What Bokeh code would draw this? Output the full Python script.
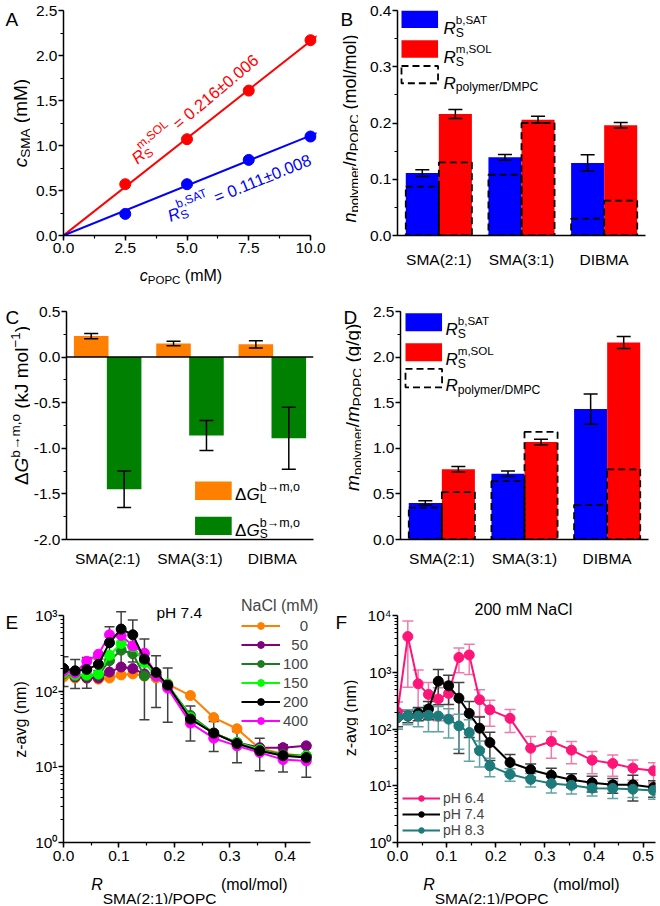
import math
from bokeh.plotting import figure
from bokeh.models import (Range1d, SingleIntervalTicker, FixedTicker, PrintfTickFormatter,
                          CustomJSTickFormatter, Label, BoxAnnotation, Whisker, TeeHead,
                          ColumnDataSource, Slope, Span, Legend, LegendItem)
from bokeh.layouts import column, row
from bokeh.embed import file_html
from bokeh.resources import INLINE

FONT = "Liberation Sans"
TICK_PX = "15.5px"
NB = "\u00a0"

# ---------------- data ----------------
# Panel A
popc_conc = [2.5, 5.0, 7.5, 10.0]
sma_sol = [0.57, 1.07, 1.61, 2.17]
sma_sat = [0.24, 0.57, 0.84, 1.10]
slope_sol = 0.216
slope_sat = 0.111

# Panels B-D
polymers = ["SMA(2:1)", "SMA(3:1)", "DIBMA"]
b_sat = [0.111, 0.139, 0.129]
b_sat_err = [0.006, 0.005, 0.0145]
b_sol = [0.216, 0.206, 0.196]
b_sol_err = [0.008, 0.006, 0.005]
b_dmpc_sat = [0.087, 0.108, 0.030]
b_dmpc_sol = [0.130, 0.200, 0.062]

dG_L = [0.23, 0.15, 0.14]
dG_L_err = [0.03, 0.025, 0.04]
dG_S = [-1.45, -0.86, -0.89]
dG_S_err = [0.20, 0.165, 0.34]

d_sat = [0.40, 0.72, 1.43]
d_sat_err = [0.025, 0.03, 0.165]
d_sol = [0.77, 1.07, 2.16]
d_sol_err = [0.03, 0.03, 0.065]
d_dmpc_sat = [0.35, 0.64, 0.38]
d_dmpc_sol = [0.52, 1.18, 0.77]

# Panel E
ratio_e = [0.0, 0.021, 0.042, 0.063, 0.083, 0.104, 0.125, 0.146, 0.167, 0.188,
           0.229, 0.271, 0.313, 0.354, 0.396, 0.438]
nacl_levels = ["0", "50", "100", "150", "200", "400"]
z_nacl_0 = [155, 150, 150, 145, 150, 165, 170, 160, 150, 125, 88, 45, 32, 17.5, 15, 14]
z_nacl_50 = [200, 155, 150, 150, 180, 210, 200, 170, 160, 120, 45, 28, 21, 18, 18, 19]
z_nacl_100 = [170, 160, 160, 165, 255, 350, 315, 160, 160, 120, 48, 28, 21, 17, 14.5, 14]
z_nacl_150 = [175, 165, 165, 170, 300, 430, 390, 240, 160, 125, 45, 28, 21, 17, 14, 14]
z_nacl_200 = [201, 187, 195, 228, 440, 667, 561, 267, 178, 121, 43, 28, 20.4, 16.4, 14.1, 13.3]
z_nacl_200_err = [85, 78, 85, 40, 275, 460, 316, 225, 117, 82, 21, 12, 9, 7.5, 5.5, 6]
z_nacl_400 = [185, 175, 250, 310, 560, 550, 400, 320, 160, 110, 38, 24, 19, 15.5, 12.5, 12]

# Panel F
ratio_f = [0.0, 0.021, 0.042, 0.063, 0.083, 0.104, 0.125, 0.146, 0.167, 0.188,
           0.229, 0.271, 0.313, 0.354, 0.396, 0.438, 0.479, 0.521]
ph_levels = ["pH 6.4", "pH 7.4", "pH 8.3"]
z_ph64 = [200, 4300, 630, 410, 340, 426, 1840, 2040, 330, 219, 155, 46, 60.5, 42.6, 28.4, 24.8, 20.5, 18.4]
z_ph64_err = [100, 3750, 470, 256, 200, 250, 850, 1120, 163, 106, 68, 28, 30, 18, 12, 10, 8, 7]
z_ph74 = [160, 170, 190, 226, 700, 582, 352, 189, 104, 58, 25.8, 19.2, 15.4, 12.8, 11.3, 10.4, 10.4, 9.3]
z_ph74_err = [50, 40, 50, 80, 430, 310, 315, 118, 60, 30, 10, 5, 5, 3.5, 3.5, 3, 5, 3]
z_ph83 = [160, 170, 170, 175, 170, 150, 114, 87, 41.5, 22.5, 16, 13, 11, 10.2, 9.1, 9, 8.7, 8.3]
z_ph83_err = [60, 50, 60, 85, 80, 80, 70, 60, 20, 8, 4, 3.5, 3.5, 3, 2.5, 3, 2.5, 2.5]

RED, BLUE = "#FF0000", "#0000FF"
ORANGE, GREEN = "#FF8000", "#008000"
E_COLORS = ["#FF8000", "#800080", "#1E7B1E", "#00FF00", "#000000", "#FF00FF"]
F_COLORS = ["#FF1478", "#000000", "#1E7B7B"]
F_ERR_COLORS = ["#F27AAB", "#404040", "#60A3A3"]
DASH = "7 4"

# ---------------- text helpers ----------------
WID = {' ': 278, NB: 278, '!': 278, '(': 333, ')': 333, '+': 584, ',': 278, '-': 333, '.': 278,
       '/': 278, ':': 278, '=': 584, '±': 584, '−': 584, '→': 1000, 'Δ': 668}
for ch in "0123456789":
    WID[ch] = 556
for ch, w in zip("ABCDEFGHIJKLMNOPQRSTUVWXYZ",
                 [667, 667, 722, 722, 667, 611, 778, 722, 278, 500, 667, 556, 833, 722, 778,
                  667, 778, 722, 667, 611, 722, 667, 944, 667, 667, 611]):
    WID[ch] = w
for ch, w in zip("abcdefghijklmnopqrstuvwxyz",
                 [556, 556, 500, 556, 556, 278, 556, 556, 222, 222, 500, 222, 833, 556, 556,
                  556, 556, 333, 500, 278, 556, 500, 722, 500, 500, 500]):
    WID[ch] = w


def tw(s, size):
    return sum(WID.get(c, 556) for c in s) * size / 1000.0


def N(t, s):
    return (t.replace(" ", NB), s, 0.0, False, True)


def I(t, s):
    return (t, s, 0.0, True, True)


def SUB(t, s, off, adv=True):
    return (t.replace(" ", NB), s, off, False, adv)


def SUP(t, s, off, adv=True):
    return (t.replace(" ", NB), s, off, False, adv)


def no_align(p):
    if "frame_align" in p.properties():
        p.frame_align = False


class Panel:
    """Main plotting figure: maps reference / page pixels to data coordinates."""
    def __init__(self, p, mine, ref, xr, yr, ylog=False):
        self.p, self.m, self.r, self.xr, self.yr, self.ylog = p, mine, ref, xr, yr, ylog

    def r2p(self, X, Y):
        L, T, Wd, H = self.m
        Lr, Tr, Wr, Hr = self.r
        return L + (X - Lr) * Wd / Wr, T + (Y - Tr) * H / Hr

    def p2d(self, X, Y):
        L, T, Wd, H = self.m
        x0, x1 = self.xr
        y0, y1 = self.yr
        xd = x0 + (X - L) / Wd * (x1 - x0)
        f = (T + H - Y) / H
        if self.ylog:
            yd = 10 ** (math.log10(y0) + f * (math.log10(y1) - math.log10(y0)))
        else:
            yd = y0 + f * (y1 - y0)
        return xd, yd


class Strip:
    """Text-only figure covering a page rectangle (no axes)."""
    def __init__(self, left, top, w, h):
        self.left, self.top, self.w, self.h = left, top, w, h
        p = figure(frame_width=w, frame_height=h, min_border=0, min_border_left=0,
                   min_border_right=0, min_border_top=0, min_border_bottom=0,
                   x_range=Range1d(0, w), y_range=Range1d(0, h),
                   x_axis_location=None, y_axis_location=None,
                   output_backend="svg", toolbar_location=None, tools="")
        p.outline_line_color = None
        p.grid.visible = False
        no_align(p)
        self.p = p

    def p2d(self, X, Y):
        return X - self.left, self.h - (Y - self.top)


def rich(target, X, Y, parts, angle=0.0, color="black", center=False):
    th = math.radians(angle)
    dx, dy = math.cos(th), -math.sin(th)
    nx, ny = -math.sin(th), -math.cos(th)
    if center:
        total, pend = 0.0, 0.0
        for (t, s, off, it, adv) in parts:
            w = tw(t, s)
            if adv:
                total += max(w, pend)
                pend = 0.0
            else:
                pend = w
        X -= dx * total / 2
        Y -= dy * total / 2
    a, pend = 0.0, 0.0
    for (t, s, off, it, adv) in parts:
        px = X + a * dx + off * nx
        py = Y + a * dy + off * ny
        xd, yd = target.p2d(px, py)
        target.p.add_layout(Label(x=xd, y=yd, text=t, angle=th, text_font=FONT,
                                  text_font_size=f"{s}px", text_color=color,
                                  text_font_style="italic" if it else "normal",
                                  text_align="left", text_baseline="alphabetic"))
        w = tw(t, s)
        if adv:
            a += max(w, pend)
            pend = 0.0
        else:
            pend = w


def box(panel, X0, Y0, X1, Y1, **kw):
    a = panel.p2d(*panel.r2p(X0, Y0))
    b = panel.p2d(*panel.r2p(X1, Y1))
    panel.p.add_layout(BoxAnnotation(left=min(a[0], b[0]), right=max(a[0], b[0]),
                                     bottom=min(a[1], b[1]), top=max(a[1], b[1]), **kw))


def base_fig(fw, fh, borders, xr, yr, ylog=False):
    bl, br, bt, bb = borders
    p = figure(frame_width=fw, frame_height=fh, min_border_left=bl, min_border_right=br,
               min_border_top=bt, min_border_bottom=bb, x_range=Range1d(*xr),
               y_range=Range1d(*yr), y_axis_type="log" if ylog else "linear",
               output_backend="svg", toolbar_location=None, tools="")
    p.outline_line_color = None
    p.grid.visible = False
    no_align(p)
    for ax in p.axis:
        ax.axis_line_width = 1.5
        ax.major_tick_line_width = 1.5
        ax.minor_tick_line_width = 1.2
        ax.major_tick_out = 5
        ax.major_tick_in = 0
        ax.minor_tick_out = 3
        ax.minor_tick_in = 0
        ax.major_label_text_font = FONT
        ax.major_label_text_font_size = TICK_PX
        ax.major_label_text_color = "black"
        ax.axis_line_color = "black"
    p.xaxis.major_label_standoff = 2
    p.yaxis.major_label_standoff = 1
    return p


def cat_axis(p, standoff):
    ax = p.xaxis[0]
    ax.ticker = FixedTicker(ticks=[i + 1 for i in range(len(polymers))], minor_ticks=[])
    ax.major_label_overrides = {i + 1: name for i, name in enumerate(polymers)}
    ax.major_tick_out = 0
    ax.major_label_standoff = standoff


def log_axis(p, decades):
    sup = {0: "⁰", 1: "¹", 2: "²", 3: "³", 4: "⁴"}
    ax = p.yaxis[0]
    ax.bounds = (1, 10 ** decades)
    ax.ticker = FixedTicker(ticks=[10 ** k for k in range(decades + 1)],
                            minor_ticks=[m * 10 ** k for k in range(decades) for m in range(2, 10)])
    ax.formatter = CustomJSTickFormatter(args=dict(sup=[sup[k] for k in range(5)]), code="""
        const e = Math.round(Math.log10(tick));
        return '10' + sup[e];
    """)


def errbars(p, xs, vals, errs, color, size, width=1.5, level="annotation"):
    src = ColumnDataSource(dict(x=xs, lo=[v - e for v, e in zip(vals, errs)],
                                hi=[v + e for v, e in zip(vals, errs)]))
    p.add_layout(Whisker(source=src, base="x", upper="hi", lower="lo", level=level,
                         line_color=color, line_width=width,
                         upper_head=TeeHead(size=size, line_color=color, line_width=width),
                         lower_head=TeeHead(size=size, line_color=color, line_width=width)))


pos = [i + 1 for i in range(len(polymers))]
left_pos = [c - 0.2 for c in pos]
right_pos = [c + 0.2 for c in pos]
FMT1 = "%.1f"
YL = 19      # y-axis title size (panels A-D)
YS = 13.5    # its sub/superscript size
DASHED_BOX = dict(fill_alpha=0, line_color="black", line_alpha=1, line_dash=DASH, line_width=1.8)

# ================= Row 1 (y 0..290) =================
# ---- Panel A ---- (frame runs 6 px past 10 mM so the last markers are whole)
A_XMAX = 10
A_XR = (0, A_XMAX * 253 / 247)
pa = base_fig(253, 225, (33, 14, 10, 25), A_XR, (0, 2.5))
A = Panel(pa, (63, 10, 253, 225), (62.7, 8.3, 246.6 * 253 / 247, 227), A_XR, (0, 2.5))
sA_L = Strip(0, 0, 30, 290)
sA_B = Strip(30, 260, 300, 30)
pa.xaxis.ticker = SingleIntervalTicker(interval=2.5, num_minor_ticks=2)
pa.yaxis.ticker = SingleIntervalTicker(interval=0.5, num_minor_ticks=2)
pa.xaxis.formatter = PrintfTickFormatter(format=FMT1)
pa.yaxis.formatter = PrintfTickFormatter(format=FMT1)
pa.xaxis.bounds = (0, A_XMAX)
pa.add_layout(Slope(gradient=slope_sol, y_intercept=0, line_color=RED, line_width=2, level="underlay"))
pa.add_layout(Slope(gradient=slope_sat, y_intercept=0, line_color=BLUE, line_width=2, level="underlay"))
pa.scatter(popc_conc, sma_sol, size=11, color=RED)
pa.scatter(popc_conc, sma_sat, size=11, color=BLUE)
rich(sA_L, 5, 19, [N("A", 19)])
rich(sA_L, 20, A.r2p(0, 121.8)[1], [I("c", YL), SUB("SMA", YS, -4.5), N(" (mM)", YL)],
     angle=90, center=True)
rich(sA_B, 139.3, 275, [I("c", 16), SUB("POPC", 11.5, -4), N(" (mM)", 16)])
rich(A, *A.r2p(132.7, 159.3), [I("R", 16.5), SUB("S", 12, -4.5, adv=False), SUP("m,SOL", 12, 8),
                               N(" = 0.216±0.006", 16.5)], angle=40, color=RED)
rich(A, *A.r2p(167.3, 216), [I("R", 16.5), SUB("S", 12, -4.5, adv=False), SUP("b,SAT", 12, 8),
                             N(" = 0.111±0.008", 16.5)], angle=22, color=BLUE)

# ---- Panel B ----
pb = base_fig(248, 225, (39, 13, 10, 55), (0.5, 3.5), (0, 0.4))
B = Panel(pb, (397, 10, 248, 225), (396.7, 8.3, 248.3, 227), (0.5, 3.5), (0, 0.4))
sB_L = Strip(330, 0, 28, 290)
cat_axis(pb, 15)
pb.yaxis.ticker = SingleIntervalTicker(interval=0.1, num_minor_ticks=2)
pb.yaxis.formatter = PrintfTickFormatter(format=FMT1)
pb.vbar(x=left_pos, top=b_sat, bottom=0, width=0.4, fill_color=BLUE, line_color=None)
pb.vbar(x=right_pos, top=b_sol, bottom=0, width=0.4, fill_color=RED, line_color=None)
pb.vbar(x=left_pos, top=b_dmpc_sat, bottom=0, width=0.4, fill_alpha=0, line_color="black",
        line_dash=DASH, line_width=1.8)
pb.vbar(x=right_pos, top=b_dmpc_sol, bottom=0, width=0.4, fill_alpha=0, line_color="black",
        line_dash=DASH, line_width=1.8)
errbars(pb, left_pos, b_sat, b_sat_err, "black", 14)
errbars(pb, right_pos, b_sol, b_sol_err, "black", 14)
rich(sB_L, 340, 19, [N("B", 19)])
rich(sB_L, 349.3, 128,
     [I("n", 18), SUB("polymer", 13, -4.5), N("/", 18), I("n", 18), SUB("POPC", 13, -4.5),
      N(" (mol/mol)", 18)], angle=90, center=True)
box(B, 400.7, 8.3, 437.3, 26, fill_color=BLUE, fill_alpha=1, line_alpha=0)
box(B, 400.7, 38.3, 437.3, 56, fill_color=RED, fill_alpha=1, line_alpha=0)
box(B, 400.7, 64.3, 437.3, 81.7, **DASHED_BOX)
rich(B, *B.r2p(442.7, 26), [I("R", 17), SUB("S", 12.2, -4.5, adv=False), SUP("b,SAT", 11.6, 9)])
rich(B, *B.r2p(442.7, 56), [I("R", 17), SUB("S", 12.2, -4.5, adv=False), SUP("m,SOL", 11.6, 9)])
rich(B, *B.r2p(442.7, 81.7), [I("R", 17), SUB("polymer/DMPC", 12.2, -4)])

# ================= Row 2 (y 290..590) =================
# ---- Panel C ----
pc = base_fig(247, 228, (33, 20, 21, 51), (0.5, 3.5), (-2.0, 0.5))
C = Panel(pc, (63, 311, 247, 228), (63.3, 311, 246.7, 227.7), (0.5, 3.5), (-2.0, 0.5))
sC_L = Strip(0, 290, 30, 300)
cat_axis(pc, 10)
pc.yaxis.ticker = SingleIntervalTicker(interval=0.5, num_minor_ticks=2)
pc.yaxis.formatter = PrintfTickFormatter(format=FMT1)
pc.vbar(x=left_pos, top=dG_L, bottom=0, width=0.42, fill_color=ORANGE, line_color=None)
pc.vbar(x=right_pos, top=dG_S, bottom=0, width=0.42, fill_color=GREEN, line_color=None)
pc.add_layout(Span(location=0, dimension="width", line_color="black", line_width=1.5))
errbars(pc, left_pos, dG_L, dG_L_err, "black", 14)
errbars(pc, right_pos, dG_S, dG_S_err, "black", 14)
rich(sC_L, 5, 316.7, [N("C", 19)])
rich(sC_L, 21, 405,
     [N("Δ", YL), I("G", YL), SUP("b→m,o", YS, 6.5), N(" (kJ mol", YL), SUP("−1", YS, 6.5),
      N(")", YL)], angle=90, center=True)
box(C, 191.7, 480.7, 228.3, 499.3, fill_color=ORANGE, fill_alpha=1, line_alpha=0)
box(C, 191.7, 516, 228.3, 534.3, fill_color=GREEN, fill_alpha=1, line_alpha=0)
rich(C, *C.r2p(231.7, 494), [N("Δ", 17), I("G", 17), SUB("L", 12, -4.3, adv=False),
                             SUP("b→m,o", 12.5, 7.5)])
rich(C, *C.r2p(231.7, 529.3), [N("Δ", 17), I("G", 17), SUB("S", 12, -4.3, adv=False),
                               SUP("b→m,o", 12.5, 7.5)])

# ---- Panel D ----
pd_ = base_fig(248, 228, (39, 13, 21, 51), (0.5, 3.5), (0, 2.5))
D = Panel(pd_, (397, 311, 248, 228), (396.7, 311, 248.3, 227.7), (0.5, 3.5), (0, 2.5))
sD_L = Strip(330, 290, 28, 300)
cat_axis(pd_, 10)
pd_.yaxis.ticker = SingleIntervalTicker(interval=0.5, num_minor_ticks=2)
pd_.yaxis.formatter = PrintfTickFormatter(format=FMT1)
pd_.vbar(x=left_pos, top=d_sat, bottom=0, width=0.4, fill_color=BLUE, line_color=None)
pd_.vbar(x=right_pos, top=d_sol, bottom=0, width=0.4, fill_color=RED, line_color=None)
pd_.vbar(x=left_pos, top=d_dmpc_sat, bottom=0, width=0.4, fill_alpha=0, line_color="black",
         line_dash=DASH, line_width=1.8)
pd_.vbar(x=right_pos, top=d_dmpc_sol, bottom=0, width=0.4, fill_alpha=0, line_color="black",
         line_dash=DASH, line_width=1.8)
errbars(pd_, left_pos, d_sat, d_sat_err, "black", 14)
errbars(pd_, right_pos, d_sol, d_sol_err, "black", 14)
rich(sD_L, 340, 316.7, [N("D", 19)])
rich(sD_L, 349.3, D.r2p(0, 406.7)[1],
     [I("m", YL), SUB("polymer", YS, -4.5), N("/", YL), I("m", YL), SUB("POPC", YS, -4.5),
      N(" (g/g)", YL)], angle=90, center=True)
box(D, 401.7, 312.7, 438.3, 330.7, fill_color=BLUE, fill_alpha=1, line_alpha=0)
box(D, 401.7, 342.7, 438.3, 360.7, fill_color=RED, fill_alpha=1, line_alpha=0)
box(D, 401.7, 368.3, 438.3, 386.7, **DASHED_BOX)
rich(D, *D.r2p(441.7, 329.3), [I("R", 17), SUB("S", 12.2, -4.5, adv=False), SUP("b,SAT", 11.6, 9)])
rich(D, *D.r2p(441.7, 359.3), [I("R", 17), SUB("S", 12.2, -4.5, adv=False), SUP("m,SOL", 11.6, 9)])
rich(D, *D.r2p(441.7, 385), [I("R", 17), SUB("polymer/DMPC", 12.2, -4)])

# ================= Row 3 (y 590..904) =================
# frames extend above the top decade (and E to the right) so the panel titles and
# legend title sit inside them; the axes are bounded to the plotted spans.
E_TOP = 10 ** (249 / 75.57)
F_TOP = 10 ** (249 / 56.68)

# ---- Panel E ----
E_XMAX = 0.4456
E_XR = (0, E_XMAX * 257 / 247)
pe = base_fig(257, 249, (33, 10, 3, 25), E_XR, (1, E_TOP), ylog=True)
E = Panel(pe, (63, 593, 257, 249), (63, 593, 257, 249), E_XR, (1, E_TOP), ylog=True)
sE_L = Strip(0, 590, 30, 314)
sE_B = Strip(30, 867, 300, 37)
pe.xaxis.ticker = SingleIntervalTicker(interval=0.1, num_minor_ticks=2)
pe.xaxis.formatter = PrintfTickFormatter(format=FMT1)
pe.xaxis.major_label_standoff = 3
pe.xaxis.bounds = (0, E_XMAX)
log_axis(pe, 3)
errbars(pe, ratio_e, z_nacl_200, z_nacl_200_err, "#404040", 10, level="underlay")
e_series = [z_nacl_0, z_nacl_50, z_nacl_100, z_nacl_150, z_nacl_200, z_nacl_400]
e_rend = {}
for idx in [0, 1, 2, 3, 5, 4]:
    r1 = pe.line(ratio_e, e_series[idx], line_color=E_COLORS[idx], line_width=2)
    r2 = pe.scatter(ratio_e, e_series[idx], size=10, color=E_COLORS[idx])
    e_rend[idx] = [r1, r2]
e_items = [LegendItem(label=lab.rjust(3, "\u2007"), renderers=e_rend[i])
           for i, lab in enumerate(nacl_levels)]
leg_e = Legend(items=e_items, location=(241 - 63, 842 - (719.3 + 9.5)),
               title="NaCl (mM)", title_text_font=FONT, title_text_font_size="16px",
               title_text_font_style="normal", title_standoff=2,
               label_text_font=FONT, label_text_font_size="15px",
               glyph_width=39, glyph_height=17, label_height=17, spacing=2, padding=0, margin=0,
               label_standoff=3, border_line_alpha=0, background_fill_alpha=0)
pe.add_layout(leg_e)
rich(sE_L, 5, 621.7, [N("E", 19)])
rich(sE_L, 20, 719, [N("z-avg (nm)", 16)], angle=90, center=True)
rich(E, 156, 611.7, [N("pH 7.4", 15.5)])
rich(sE_B, 90.7, 884, [I("R", 16), SUB("SMA(2:1)/POPC", 15.5, -14), N(" (mol/mol)", 16)])

# ---- Panel F ----
F_XR = (0, 0.525)
pf = base_fig(258, 249, (39, 3, 3, 25), F_XR, (1, F_TOP), ylog=True)
F = Panel(pf, (397, 593, 258, 249), (397, 593, 258, 249), F_XR, (1, F_TOP), ylog=True)
sF_L = Strip(330, 590, 28, 314)
sF_B = Strip(358, 867, 300, 37)
pf.xaxis.ticker = SingleIntervalTicker(interval=0.1, num_minor_ticks=2)
pf.xaxis.formatter = PrintfTickFormatter(format=FMT1)
pf.xaxis.major_label_standoff = 3
log_axis(pf, 4)
f_series = [z_ph64, z_ph74, z_ph83]
f_errs = [z_ph64_err, z_ph74_err, z_ph83_err]
for i in range(3):
    errbars(pf, ratio_f, f_series[i], f_errs[i], F_ERR_COLORS[i], 11, level="underlay")
f_rend = []
for i in range(3):
    r1 = pf.line(ratio_f, f_series[i], line_color=F_COLORS[i], line_width=2)
    r2 = pf.scatter(ratio_f, f_series[i], size=10, color=F_COLORS[i])
    f_rend.append([r1, r2])
f_items = [LegendItem(label=lab, renderers=f_rend[i]) for i, lab in enumerate(ph_levels)]
leg_f = Legend(items=f_items, location=(402 - 397, 4),
               label_text_font=FONT, label_text_font_size="14px",
               glyph_width=38, glyph_height=14, label_height=14, spacing=0, padding=0, margin=0,
               label_standoff=3, border_line_alpha=0, background_fill_alpha=0)
pf.add_layout(leg_f)
rich(sF_L, 335, 621.7, [N("F", 19)])
rich(sF_L, 350, 717.5, [N("z-avg (nm)", 16)], angle=90, center=True)
rich(F, 474, 609, [N("200 mM NaCl", 16)])
rich(sF_B, 422.7, 884, [I("R", 16), SUB("SMA(2:1)/POPC", 15.5, -14), N(" (mol/mol)", 16)])

row1 = row(sA_L.p, column(pa, sA_B.p), sB_L.p, pb)
row2 = row(sC_L.p, pc, sD_L.p, pd_)
row3 = row(sE_L.p, column(pe, sE_B.p), sF_L.p, column(pf, sF_B.p))
layout = column(row1, row2, row3)
open("out.html", "w").write(file_html(layout, INLINE, title="chart"))
